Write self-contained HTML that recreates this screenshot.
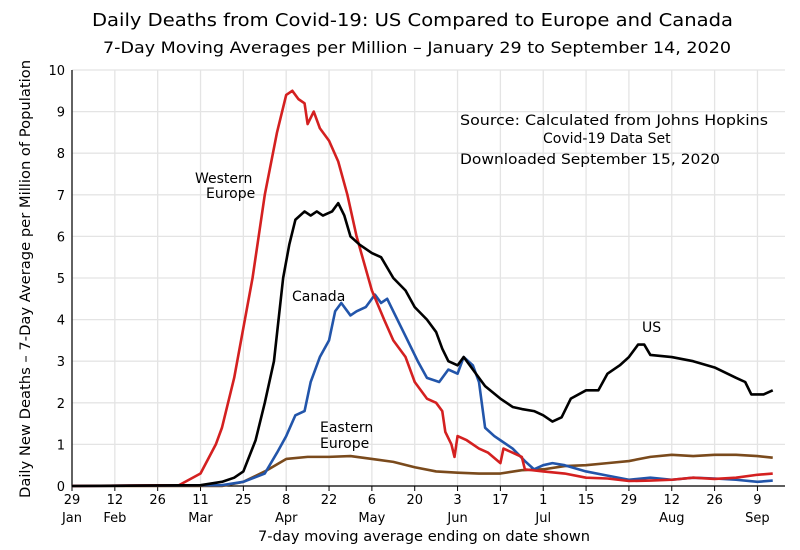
<!DOCTYPE html>
<html><head><meta charset="utf-8"><style>
body{margin:0;background:#fff;}
svg{display:block;font-family:"DejaVu Sans","Liberation Sans",sans-serif;}
</style></head><body>
<svg id="chart" width="800" height="550">
<text x="92" y="26" font-size="18" textLength="641" lengthAdjust="spacingAndGlyphs">Daily Deaths from Covid-19:  US Compared to Europe and Canada</text>
<text x="103" y="53" font-size="16" textLength="628" lengthAdjust="spacingAndGlyphs">7-Day Moving Averages per Million – January 29 to September 14, 2020</text>
<text transform="translate(30,279) rotate(-90)" text-anchor="middle" font-size="14" textLength="438" lengthAdjust="spacingAndGlyphs">Daily New Deaths – 7-Day Average per Million of Population</text>
<text x="258" y="541" font-size="14.5" textLength="332" lengthAdjust="spacingAndGlyphs">7-day moving average ending on date shown</text>
<g id="grid"></g><g id="axes"></g><g id="series"></g>
<text x="460" y="125" font-size="14" textLength="308" lengthAdjust="spacingAndGlyphs">Source:  Calculated from Johns Hopkins</text>
<text x="543" y="143" font-size="14">Covid-19 Data Set</text>
<text x="460" y="164" font-size="14" textLength="260" lengthAdjust="spacingAndGlyphs">Downloaded September 15, 2020</text>
<text x="195" y="183" font-size="14">Western</text>
<text x="206" y="198" font-size="14">Europe</text>
<text x="292" y="301" font-size="14">Canada</text>
<text x="320" y="432" font-size="14">Eastern</text>
<text x="320" y="448" font-size="14">Europe</text>
<text x="642" y="332" font-size="14">US</text>
</svg>
<script>
const tickDays=[0,14,28,42,56,70,84,98,112,126,140,154,168,182,196,210,224];
const tickLabels=["29","12","26","11","25","8","22","6","20","3","17","1","15","29","12","26","9"];
const monthLabels={0:"Jan",14:"Feb",42:"Mar",70:"Apr",98:"May",126:"Jun",154:"Jul",196:"Aug",224:"Sep"};
const yTicks=[0,1,2,3,4,5,6,7,8,9,10];
const weDays=[0,35,42,47,49,53,56,59,63,67,70,72,74,76,77,79,81,84,87,90,93,98,102,105,109,112,116,119,121,122,124,125,126,129,133,136,140,141,144,147,148,154,161,168,175,182,189,196,203,210,217,224,229];
const weVals=[0,0.02,0.3,1.0,1.4,2.6,3.8,5.0,7.0,8.5,9.4,9.5,9.3,9.2,8.7,9.0,8.6,8.3,7.8,7.0,6.0,4.7,4.0,3.5,3.1,2.5,2.1,2.0,1.8,1.3,1.0,0.7,1.2,1.1,0.9,0.8,0.55,0.9,0.8,0.7,0.4,0.35,0.3,0.2,0.18,0.12,0.13,0.15,0.2,0.17,0.2,0.27,0.3];
const usDays=[0,42,49,53,56,60,63,66,69,71,73,76,78,80,82,85,87,89,91,94,98,101,105,109,112,116,119,121,123,126,128,131,135,140,144,147,151,154,157,160,163,168,172,175,179,182,185,187,189,196,203,210,217,220,222,224,226,229];
const usVals=[0,0.02,0.1,0.2,0.35,1.1,2.0,3.0,5.0,5.8,6.4,6.6,6.5,6.6,6.5,6.6,6.8,6.5,6.0,5.8,5.6,5.5,5.0,4.7,4.3,4.0,3.7,3.3,3.0,2.9,3.1,2.8,2.4,2.1,1.9,1.85,1.8,1.7,1.55,1.65,2.1,2.3,2.3,2.7,2.9,3.1,3.4,3.4,3.15,3.1,3.0,2.85,2.6,2.5,2.2,2.2,2.2,2.3];
const caDays=[0,49,56,63,67,70,73,76,78,81,84,86,88,91,93,96,99,101,103,105,109,113,116,120,123,126,128,131,133,135,138,140,144,148,151,154,157,161,168,175,182,189,196,203,210,217,224,229];
const caVals=[0,0.02,0.1,0.3,0.8,1.2,1.7,1.8,2.5,3.1,3.5,4.2,4.4,4.1,4.2,4.3,4.6,4.4,4.5,4.2,3.6,3.0,2.6,2.5,2.8,2.7,3.1,2.9,2.5,1.4,1.2,1.1,0.9,0.6,0.4,0.5,0.55,0.5,0.35,0.25,0.15,0.2,0.15,0.2,0.18,0.15,0.1,0.13];
const eeDays=[0,49,56,63,70,77,84,91,98,105,112,119,126,133,140,147,154,161,168,175,182,189,196,203,210,217,224,229];
const eeVals=[0,0.0,0.1,0.35,0.65,0.7,0.7,0.72,0.65,0.58,0.45,0.35,0.32,0.3,0.3,0.38,0.4,0.48,0.5,0.55,0.6,0.7,0.75,0.72,0.75,0.75,0.72,0.68];

const NS="http://www.w3.org/2000/svg";
const L=72,R=785,T=70,B=486,X0=72,PX=3.06;
const xs=d=>X0+d*PX, ys=v=>B-(B-T)*v/10;
function mk(tag,attrs,parent){const e=document.createElementNS(NS,tag);for(const k in attrs)e.setAttribute(k,attrs[k]);parent.appendChild(e);return e;}
const grid=document.getElementById('grid'),axes=document.getElementById('axes'),ser=document.getElementById('series');
yTicks.forEach(v=>{
  const g=mk('line',{x1:L,x2:R,y1:ys(v),y2:ys(v),stroke:'#e4e4e4','stroke-width':1.3},grid);
  
  
  const t=mk('text',{x:L-7,y:ys(v)+5,'text-anchor':'end','font-size':13},axes);
  t.textContent=v;
  
  
});
tickDays.forEach((d,i)=>{
  const g=mk('line',{x1:xs(d),x2:xs(d),y1:T,y2:B,stroke:'#e4e4e4','stroke-width':1.3},grid);
  
  
  const tk=mk('line',{x1:xs(d),x2:xs(d),y1:B,y2:B+5,stroke:'#000'},axes);
  
  
  const t=mk('text',{x:xs(d),y:B+18,'text-anchor':'middle','font-size':13},axes);
  t.textContent=tickLabels[i];
  
  
  if(monthLabels[d]){
    const m=mk('text',{x:xs(d),y:B+36,'text-anchor':'middle','font-size':13},axes);
    m.textContent=monthLabels[d];
    
    
  }
});
const ax=mk('path',{d:`M${L},${T} V${B} H${R}`,fill:'none',stroke:'#000','stroke-width':1.2},axes);


function line(days,vals,color,name){
  const p=mk('polyline',{points:days.map((d,i)=>xs(d)+','+ys(vals[i])).join(' '),fill:'none',stroke:color,'stroke-width':2.6,'stroke-linejoin':'round'},ser);
  
  
}
line(eeDays,eeVals,'#7a4a1c','eastern-europe-line');
line(caDays,caVals,'#2255aa','canada-line');
line(weDays,weVals,'#d42020','western-europe-line');
line(usDays,usVals,'#000000','us-line');
</script>
</body></html>
